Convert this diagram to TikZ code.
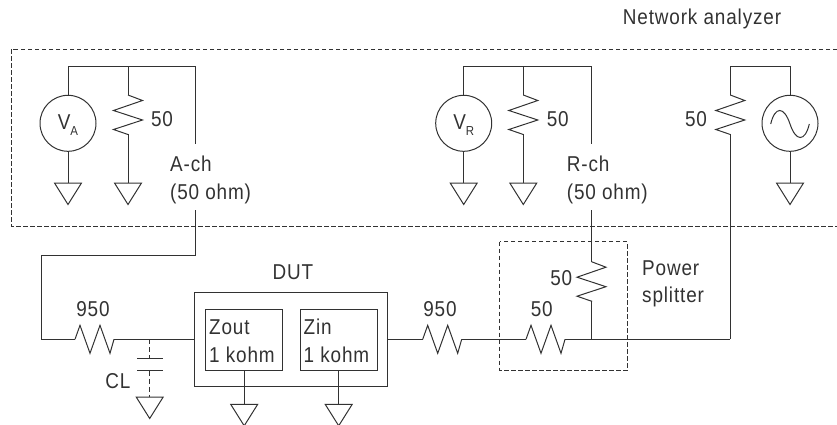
\documentclass[tikz,border=0pt]{standalone}
\usepackage{fontspec}
\setmainfont[FakeStretch=0.88,LetterSpace=4]{Liberation Sans}
\usetikzlibrary{calc}
\definecolor{ink}{RGB}{50, 50, 50}
\tikzstyle{wire}=[draw=ink,line width=1pt,line join=miter]
\tikzstyle{dash box}=[draw=ink,line width=1pt,dash pattern=on 4.5pt off 2.5pt]
\tikzstyle{meter}=[circle,draw=ink,line width=1pt,inner sep=0pt,minimum size=56pt]
\tikzstyle{inner box}=[rectangle,draw=ink,line width=1pt,inner sep=0pt,minimum width=77pt,minimum height=61pt]
\tikzstyle{lbl}=[inner sep=0pt,text=ink,font=\fontsize{21.5}{27.5}\selectfont]
\newcommand{\volt}[1]{V{\fontsize{13}{13}\selectfont\raisebox{-6pt}{#1}}}
\tikzset{
  hres/.style={to path={-- ++(5,-14) -- ++(10,28) -- ++(10,-28) -- ++(10,28) -- ++(4,-14) -- (\tikztotarget)}},
  vres/.style={to path={-- ++(14.5,5.5) -- ++(-29,10) -- ++(29,9.5) -- ++(-29,9.5) -- ++(14.5,5) -- (\tikztotarget)}},
  gnd/.pic={\draw[wire] (0,0) -- (13.5,0) -- (0,21.5) -- (-13.5,0) -- cycle;}
}

\begin{document}
\begin{tikzpicture}[x=1pt,y=-1pt]
        \useasboundingbox (0,0) rectangle (837,425);
        % analyzer outline, open on the right
        \node (nw) at (837, 49.4) {};
        \node (nl) at (11, 49.4) {};
        \node (sl) at (11, 226.4) {};
        \node (se) at (837, 226.4) {};
        \draw[style=dash box] (nw.center) to (nl.center) to (sl.center) to (se.center);
        \node[style=lbl] (title) at (702, 19) {Network analyzer};

        % A channel
        \node (a0) at (68, 66.4) {};
        \node (a1) at (128, 66.4) {};
        \node (a2) at (195.7, 66.4) {};
        \node (a3) at (195.7, 144) {};
        \node (a4) at (195.7, 210) {};
        \node (a5) at (195.7, 255) {};
        \node (a6) at (41.4, 255) {};
        \node (a7) at (41.4, 339.3) {};
        \node (a8) at (75, 339.3) {};
        \node (a9) at (114, 339.3) {};
        \node (a10) at (128, 95) {};
        \node (a11) at (128, 134) {};
        \node (a12) at (128, 183) {};
        \node (a13) at (68, 183) {};
        \node[style=meter] (va) at (68, 123.3) {};
        \node[style=lbl] (vatext) at (68, 125) {\volt{A}};
        \node[style=lbl] (r1) at (162, 119) {50};
        \node[style=lbl,align=left,anchor=west] (ach) at (170, 180) {A-ch\\(50 ohm)};
        \draw[style=wire] (va) to (a0.center) to (a2.center) to (a3.center);
        \draw[style=wire] (a1.center) to (a10.center);
        \draw[style=wire] (a10.center) to[vres] (a11.center);
        \draw[style=wire] (a11.center) to (a12.center);
        \draw[style=wire] (va) to (a13.center);
        \draw[style=wire] (a4.center) to (a5.center) to (a6.center) to (a7.center) to (a8.center);
        \draw[style=wire] (a8.center) to[hres] (a9.center);
        \pic at (a12) {gnd};
        \pic at (a13) {gnd};
        \node[style=lbl] (r950a) at (93, 309) {950};

        % load capacitor
        \node (c0) at (149.7, 339.3) {};
        \node (c1) at (149.7, 358.5) {};
        \node (c2) at (149.7, 370.7) {};
        \node (c3) at (149.7, 397) {};
        \node (c4) at (137, 358.5) {};
        \node (c5) at (163, 358.5) {};
        \node (c6) at (137, 370.7) {};
        \node (c7) at (163, 370.7) {};
        \draw[style=wire,dash pattern=on 5pt off 3pt] (c0.center) to (c1.center);
        \draw[style=wire,dash pattern=on 5pt off 3pt] (c2.center) to (c3.center);
        \draw[style=wire] (c4.center) to (c5.center);
        \draw[style=wire] (c6.center) to (c7.center);
        \pic at (c3) {gnd};
        \node[style=lbl] (cl) at (118, 380.7) {CL};

        % DUT
        \node[style=lbl] (duttext) at (293, 272.7) {DUT};
        \node[draw=ink,line width=1pt,inner sep=0pt,minimum width=193pt,minimum height=94pt] (dut) at (291.4, 339.3) {};
        \node[style=inner box] (zout) at (244.2, 339.8) {};
        \node[style=inner box] (zin) at (338.7, 339.8) {};
        \node[style=lbl,align=left,anchor=west] (zouttext) at (209, 341) {Zout\\1 kohm};
        \node[style=lbl,align=left,anchor=west] (zintext) at (303.5, 341) {Zin\\1 kohm};
        \node (g1) at (244.2, 404.3) {};
        \node (g2) at (338.7, 404.3) {};
        \draw[style=wire] (a9.center) to (dut.west);
        \draw[style=wire] (zout.south) to (g1.center);
        \draw[style=wire] (zin.south) to (g2.center);
        \pic at (g1) {gnd};
        \pic at (g2) {gnd};

        % output side and power splitter
        \node (o1) at (422.7, 339.3) {};
        \node (o2) at (461.7, 339.3) {};
        \node (o3) at (526, 339.3) {};
        \node (o4) at (565, 339.3) {};
        \node (o5) at (591.5, 339.3) {};
        \node (o6) at (730.3, 339.3) {};
        \node[style=lbl] (r950b) at (440, 309) {950};
        \node[style=lbl] (r50b) at (541.7, 309) {50};
        \draw[style=wire] (dut.east) to (o1.center);
        \draw[style=wire] (o1.center) to[hres] (o2.center);
        \draw[style=wire] (o2.center) to (o3.center);
        \draw[style=wire] (o3.center) to[hres] (o4.center);
        \draw[style=wire] (o4.center) to (o6.center);
        \node (s0) at (499.7, 241.7) {};
        \node (s1) at (627.3, 370.3) {};
        \draw[style=dash box] (s0.center) rectangle (s1.center);
        \node[style=lbl,align=left,anchor=west] (split) at (642, 284) {Power\\splitter};
        \node (s2) at (591.5, 261.7) {};
        \node (s3) at (591.5, 300.7) {};
        \node[style=lbl] (r50c) at (561.3, 277.7) {50};
        \draw[style=wire] (s2.center) to[vres] (s3.center);
        \draw[style=wire] (s3.center) to (o5.center);

        % R channel
        \node (b0) at (463.7, 66.4) {};
        \node (b1) at (523.3, 66.4) {};
        \node (b2) at (591.5, 66.4) {};
        \node (b3) at (591.5, 144) {};
        \node (b4) at (591.5, 210) {};
        \node (b10) at (523.3, 95) {};
        \node (b11) at (523.3, 134) {};
        \node (b12) at (523.3, 183) {};
        \node (b13) at (463.7, 183) {};
        \node[style=meter] (vr) at (463.7, 123.3) {};
        \node[style=lbl] (vrtext) at (463.7, 125) {\volt{R}};
        \node[style=lbl] (r2) at (557.7, 119) {50};
        \node[style=lbl,align=left,anchor=west] (rch) at (566.7, 180) {R-ch\\(50 ohm)};
        \draw[style=wire] (vr) to (b0.center) to (b2.center) to (b3.center);
        \draw[style=wire] (b1.center) to (b10.center);
        \draw[style=wire] (b10.center) to[vres] (b11.center);
        \draw[style=wire] (b11.center) to (b12.center);
        \draw[style=wire] (vr) to (b13.center);
        \draw[style=wire] (b4.center) to (s2.center);
        \pic at (b12) {gnd};
        \pic at (b13) {gnd};

        % source
        \node (d0) at (730.3, 66.4) {};
        \node (d1) at (790, 66.4) {};
        \node (d2) at (730.3, 95) {};
        \node (d3) at (730.3, 134) {};
        \node (d4) at (790, 183) {};
        \node[style=meter] (src) at (790, 123.3) {};
        \node[style=lbl] (r3) at (696, 119) {50};
        \draw[style=wire] (src) to (d1.center) to (d0.center) to (d2.center);
        \draw[style=wire] (d2.center) to[vres] (d3.center);
        \draw[style=wire] (d3.center) to (o6.center);
        \draw[style=wire] (src) to (d4.center);
        \pic at (d4) {gnd};
        \node (w0) at (770.7, 124) {};
        \node (w1) at (790, 124) {};
        \node (w2) at (809.3, 124) {};
        \draw[style=wire] (w0.center) .. controls (775, 106) and (784, 106) .. (w1.center);
        \draw[style=wire] (w1.center) .. controls (796, 142) and (805, 142) .. (w2.center);
\end{tikzpicture}
\end{document}
